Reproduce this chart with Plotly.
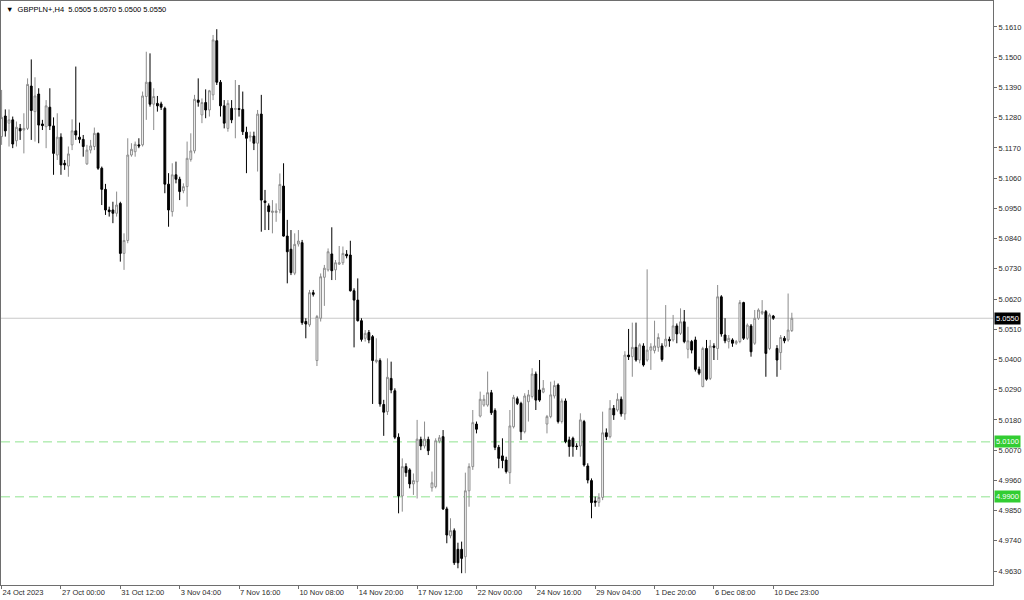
import plotly.graph_objects as go

# ---------------- data (GBPPLN+, H4) ----------------
open_ = [5.1211, 5.1286, 5.1260, 5.1272, 5.1196, 5.1241, 5.1235, 5.1241, 5.1395, 5.1302,
         5.1366, 5.1257, 5.1247, 5.1318, 5.1250, 5.1144, 5.1209, 5.1114, 5.1104, 5.1181,
         5.1232, 5.1209, 5.1201, 5.1112, 5.1162, 5.1175, 5.1223, 5.1096, 5.1019, 5.0944,
         5.0944, 5.0932, 5.0968, 5.0786, 5.0833, 5.1144, 5.1156, 5.1181, 5.1181, 5.1357,
         5.1409, 5.1329, 5.1332, 5.1330, 5.1314, 5.1038, 5.0938, 5.1072, 5.1056, 5.1014,
         5.1029, 5.1128, 5.1159, 5.1344, 5.1290, 5.1335, 5.1308, 5.1363, 5.1560, 5.1409,
         5.1323, 5.1241, 5.1314, 5.1310, 5.1313, 5.1310, 5.1227, 5.1209, 5.1213, 5.1187,
         5.1293, 5.0977, 5.0959, 5.0935, 5.0935, 5.0944, 5.1031, 5.0849, 5.0801, 5.0714,
         5.0820, 5.0825, 5.0538, 5.0526, 5.0643, 5.0396, 5.0550, 5.0699, 5.0726, 5.0784,
         5.0726, 5.0747, 5.0752, 5.0783, 5.0780, 5.0650, 5.0616, 5.0541, 5.0477, 5.0498,
         5.0483, 5.0392, 5.0396, 5.0236, 5.0210, 5.0331, 5.0286, 5.0117, 4.9903, 5.0010,
         4.9998, 4.9947, 4.9955, 5.0109, 5.0085, 5.0109, 4.9933, 4.9937, 5.0103, 5.0119,
         4.9856, 4.9758, 4.9777, 4.9709, 4.9709, 4.9682, 4.9922, 5.0010, 5.0165, 5.0194,
         5.0234, 5.0234, 5.0279, 5.0214, 5.0080, 5.0049, 5.0034, 4.9988, 5.0155, 5.0257,
         5.0240, 5.0137, 5.0246, 5.0265, 5.0347, 5.0289, 5.0281, 5.0165, 5.0192, 5.0267,
         5.0307, 5.0174, 5.0249, 5.0107, 5.0113, 5.0085, 5.0085, 5.0174, 5.0012, 4.9959,
         4.9885, 4.9880, 4.9898, 5.0133, 5.0119, 5.0222, 5.0216, 5.0255, 5.0202, 5.0416,
         5.0410, 5.0444, 5.0398, 5.0449, 5.0398, 5.0434, 5.0432, 5.0444, 5.0449, 5.0449,
         5.0473, 5.0471, 5.0522, 5.0495, 5.0537, 5.0437, 5.0465, 5.0471, 5.0364, 5.0301,
         5.0440, 5.0331, 5.0449, 5.0440, 5.0628, 5.0489, 5.0465, 5.0471, 5.0459, 5.0465,
         5.0607, 5.0477, 5.0522, 5.0459, 5.0550, 5.0568, 5.0574, 5.0440, 5.0558, 5.0440,
         5.0425, 5.0477, 5.0471, 5.0505]
high = [5.1381, 5.1310, 5.1310, 5.1284, 5.1266, 5.1257, 5.1296, 5.1423, 5.1492, 5.1427,
        5.1387, 5.1272, 5.1344, 5.1387, 5.1281, 5.1296, 5.1223, 5.1126, 5.1175, 5.1274,
        5.1466, 5.1262, 5.1217, 5.1181, 5.1199, 5.1244, 5.1226, 5.1102, 5.1039, 5.0956,
        5.0974, 5.1011, 5.0974, 5.0859, 5.1205, 5.1187, 5.1193, 5.1205, 5.1375, 5.1520,
        5.1514, 5.1387, 5.1359, 5.1338, 5.1320, 5.1078, 5.1114, 5.1120, 5.1065, 5.1041,
        5.1193, 5.1223, 5.1363, 5.1423, 5.1350, 5.1383, 5.1381, 5.1581, 5.1602, 5.1417,
        5.1344, 5.1344, 5.1344, 5.1417, 5.1399, 5.1375, 5.1247, 5.1229, 5.1229, 5.1308,
        5.1363, 5.1017, 5.0968, 5.0980, 5.0968, 5.1077, 5.1114, 5.0908, 5.0871, 5.0859,
        5.0871, 5.0835, 5.0550, 5.0653, 5.0653, 5.0562, 5.0713, 5.0744, 5.0804, 5.0881,
        5.0762, 5.0813, 5.0811, 5.0798, 5.0832, 5.0659, 5.0695, 5.0550, 5.0507, 5.0507,
        5.0489, 5.0477, 5.0404, 5.0253, 5.0404, 5.0392, 5.0295, 5.0131, 5.0040, 5.0022,
        5.0004, 4.9985, 5.0180, 5.0119, 5.0174, 5.0119, 4.9992, 5.0113, 5.0125, 5.0143,
        4.9864, 4.9822, 4.9785, 4.9733, 4.9737, 4.9988, 5.0022, 5.0216, 5.0174, 5.0283,
        5.0271, 5.0356, 5.0289, 5.0222, 5.0089, 5.0113, 5.0046, 5.0216, 5.0271, 5.0265,
        5.0246, 5.0277, 5.0289, 5.0368, 5.0356, 5.0398, 5.0325, 5.0198, 5.0319, 5.0323,
        5.0313, 5.0258, 5.0258, 5.0119, 5.0119, 5.0095, 5.0204, 5.0180, 5.0022, 4.9967,
        4.9901, 4.9913, 5.0210, 5.0149, 5.0252, 5.0234, 5.0277, 5.0265, 5.0430, 5.0511,
        5.0534, 5.0534, 5.0459, 5.0459, 5.0728, 5.0459, 5.0541, 5.0495, 5.0459, 5.0598,
        5.0483, 5.0562, 5.0531, 5.0586, 5.0580, 5.0519, 5.0471, 5.0483, 5.0374, 5.0446,
        5.0471, 5.0471, 5.0459, 5.0671, 5.0634, 5.0550, 5.0489, 5.0477, 5.0471, 5.0616,
        5.0610, 5.0531, 5.0529, 5.0580, 5.0586, 5.0616, 5.0580, 5.0568, 5.0562, 5.0452,
        5.0489, 5.0485, 5.0640, 5.0570]
low = [5.1181, 5.1211, 5.1175, 5.1169, 5.1175, 5.1199, 5.1150, 5.1235, 5.1199, 5.1193,
       5.1187, 5.1235, 5.1169, 5.1235, 5.1072, 5.1126, 5.1072, 5.1090, 5.1065, 5.1162,
       5.1199, 5.1187, 5.1138, 5.1108, 5.1150, 5.1162, 5.1090, 5.0962, 5.0926, 5.0920,
       5.0896, 5.0920, 5.0756, 5.0726, 5.0823, 5.1138, 5.1138, 5.1169, 5.1175, 5.1272,
       5.1320, 5.1235, 5.1302, 5.1308, 5.1005, 5.0883, 5.0920, 5.1041, 5.0980, 5.1005,
       5.0956, 5.1120, 5.1150, 5.1320, 5.1260, 5.1278, 5.1284, 5.1344, 5.1399, 5.1284,
       5.1241, 5.1229, 5.1260, 5.1205, 5.1284, 5.1217, 5.1078, 5.1193, 5.1162, 5.1084,
       5.0865, 5.0871, 5.0871, 5.0859, 5.0901, 5.0932, 5.0847, 5.0677, 5.0707, 5.0707,
       5.0811, 5.0526, 5.0477, 5.0519, 5.0629, 5.0376, 5.0538, 5.0595, 5.0720, 5.0689,
       5.0689, 5.0744, 5.0744, 5.0768, 5.0647, 5.0444, 5.0538, 5.0465, 5.0465, 5.0459,
       5.0238, 5.0386, 5.0228, 5.0122, 5.0198, 5.0277, 5.0110, 4.9840, 4.9846, 4.9973,
       4.9931, 4.9907, 4.9894, 5.0070, 5.0076, 5.0052, 4.9919, 4.9931, 5.0095, 4.9852,
       4.9731, 4.9749, 4.9652, 4.9640, 4.9622, 4.9622, 4.9864, 4.9998, 5.0131, 5.0189,
       5.0228, 5.0228, 5.0198, 5.0070, 5.0004, 5.0004, 4.9985, 4.9947, 5.0149, 5.0234,
       5.0107, 5.0131, 5.0174, 5.0258, 5.0216, 5.0246, 5.0277, 5.0131, 5.0186, 5.0258,
       5.0167, 5.0167, 5.0095, 5.0046, 5.0046, 5.0071, 5.0046, 5.0010, 4.9949, 4.9822,
       4.9864, 4.9864, 4.9888, 5.0107, 5.0113, 5.0180, 5.0210, 5.0192, 5.0180, 5.0398,
       5.0337, 5.0392, 5.0386, 5.0374, 5.0392, 5.0362, 5.0422, 5.0428, 5.0392, 5.0444,
       5.0446, 5.0465, 5.0459, 5.0489, 5.0459, 5.0404, 5.0422, 5.0356, 5.0343, 5.0299,
       5.0323, 5.0325, 5.0398, 5.0398, 5.0483, 5.0459, 5.0440, 5.0446, 5.0453, 5.0459,
       5.0471, 5.0471, 5.0410, 5.0453, 5.0544, 5.0562, 5.0337, 5.0434, 5.0544, 5.0337,
       5.0362, 5.0459, 5.0465, 5.0500]
close = [5.1281, 5.1232, 5.1272, 5.1184, 5.1245, 5.1232, 5.1241, 5.1401, 5.1306, 5.1359,
         5.1253, 5.1251, 5.1323, 5.1250, 5.1150, 5.1209, 5.1108, 5.1108, 5.1148, 5.1232,
         5.1217, 5.1201, 5.1175, 5.1162, 5.1177, 5.1223, 5.1096, 5.1019, 5.0944, 5.0938,
         5.0932, 5.0962, 5.0786, 5.0833, 5.1144, 5.1165, 5.1183, 5.1177, 5.1359, 5.1409,
         5.1329, 5.1357, 5.1323, 5.1318, 5.1038, 5.0944, 5.1072, 5.1056, 5.1011, 5.1029,
         5.1132, 5.1159, 5.1347, 5.1336, 5.1335, 5.1308, 5.1378, 5.1563, 5.1409, 5.1323,
         5.1260, 5.1332, 5.1272, 5.1313, 5.1310, 5.1229, 5.1205, 5.1213, 5.1187, 5.1293,
         5.0980, 5.0971, 5.0938, 5.0940, 5.0940, 5.1037, 5.0849, 5.0792, 5.0716, 5.0819,
         5.0831, 5.0534, 5.0529, 5.0643, 5.0637, 5.0556, 5.0701, 5.0732, 5.0792, 5.0723,
         5.0752, 5.0752, 5.0786, 5.0777, 5.0650, 5.0616, 5.0541, 5.0473, 5.0495, 5.0471,
         5.0396, 5.0398, 5.0238, 5.0208, 5.0335, 5.0289, 5.0117, 4.9903, 5.0010, 4.9988,
         4.9947, 4.9959, 5.0110, 5.0085, 5.0110, 5.0068, 4.9951, 5.0104, 5.0115, 4.9856,
         4.9761, 4.9777, 4.9660, 4.9660, 4.9676, 4.9922, 5.0010, 5.0170, 5.0146, 5.0255,
         5.0255, 5.0279, 5.0206, 5.0080, 5.0040, 5.0032, 4.9992, 5.0158, 5.0262, 5.0240,
         5.0137, 5.0267, 5.0271, 5.0347, 5.0252, 5.0252, 5.0295, 5.0192, 5.0271, 5.0305,
         5.0174, 5.0249, 5.0101, 5.0083, 5.0083, 5.0083, 5.0180, 5.0016, 4.9961, 4.9879,
         4.9880, 4.9898, 5.0133, 5.0119, 5.0222, 5.0198, 5.0255, 5.0202, 5.0416, 5.0410,
         5.0444, 5.0398, 5.0453, 5.0380, 5.0434, 5.0446, 5.0449, 5.0480, 5.0400, 5.0474,
         5.0468, 5.0522, 5.0493, 5.0537, 5.0465, 5.0468, 5.0434, 5.0364, 5.0350, 5.0440,
         5.0328, 5.0449, 5.0444, 5.0628, 5.0493, 5.0468, 5.0477, 5.0459, 5.0465, 5.0607,
         5.0477, 5.0525, 5.0428, 5.0550, 5.0580, 5.0574, 5.0422, 5.0562, 5.0550, 5.0398,
         5.0480, 5.0468, 5.0507, 5.0550]

symbol = "GBPPLN+,H4"
time_labels = ["24 Oct 2023", "27 Oct 00:00", "31 Oct 12:00", "3 Nov 04:00", "7 Nov 16:00",
               "10 Nov 08:00", "14 Nov 20:00", "17 Nov 12:00", "22 Nov 00:00", "24 Nov 16:00",
               "29 Nov 04:00", "1 Dec 20:00", "6 Dec 08:00", "10 Dec 23:00"]
bars_per_label = 16
price_ticks = [5.1610, 5.1500, 5.1390, 5.1280, 5.1170, 5.1060, 5.0950, 5.0840, 5.0730, 5.0620,
               5.0510, 5.0400, 5.0290, 5.0180, 5.0070, 4.9960, 4.9850, 4.9740, 4.9630]
level_prices = [5.0100, 4.9900]
last_price = close[-1]

# ---------------- figure ----------------
FONT = "Liberation Sans, Arial, sans-serif"
AX = "#6e6e6e"
TXT = "#2a2a2a"

x = list(range(len(close)))
tick_pos = [k * bars_per_label for k in range(len(time_labels))]

fig = go.Figure(go.Candlestick(
    x=x, open=open_, high=high, low=low, close=close,
    increasing=dict(line=dict(color="#8c8c8c", width=1), fillcolor="#ffffff"),
    decreasing=dict(line=dict(color="#000000", width=1), fillcolor="#000000"),
    whiskerwidth=0, hoverinfo="skip", showlegend=False,
))

shapes = [dict(type="line", xref="paper", x0=0, x1=1, yref="y", y0=last_price, y1=last_price,
               line=dict(color="#c8c8c8", width=1), layer="below")]
for lv in level_prices:
    shapes.append(dict(type="line", xref="paper", x0=0, x1=1, yref="y", y0=lv, y1=lv,
                       line=dict(color="#8fe38f", width=1, dash="9px,5px"), layer="below"))

annotations = [dict(xref="paper", yref="y", x=1, y=last_price, xanchor="left", yanchor="middle",
                    xshift=1, text=f"{last_price:.4f}", showarrow=False, bgcolor="#000000",
                    borderpad=1, font=dict(family=FONT, size=7.5, color="#ffffff"))]
for lv in level_prices:
    annotations.append(dict(xref="paper", yref="y", x=1, y=lv, xanchor="left", yanchor="middle",
                            xshift=1, text=f"{lv:.4f}", showarrow=False, bgcolor="#32cd32",
                            borderpad=1, font=dict(family=FONT, size=7.5, color="#ffffff")))
annotations.append(dict(xref="paper", yref="paper", x=0, y=1, xanchor="left", yanchor="top",
                        xshift=3, yshift=-2, showarrow=False,
                        text=f"▼  {symbol}  {open_[-1]:.4f} {high[-1]:.4f} {low[-1]:.4f} {close[-1]:.4f}",
                        font=dict(family=FONT, size=7.5, color="#000000")))

px_per_bar = 3.71
plot_w = 1024 - 1 - 31
x0 = -0.6 / px_per_bar
fig.update_layout(
    width=1024, height=600,
    margin=dict(l=1, r=31, t=1, b=15, autoexpand=False),
    paper_bgcolor="white", plot_bgcolor="white",
    showlegend=False, hovermode=False,
    shapes=shapes, annotations=annotations,
    xaxis=dict(range=[x0, x0 + plot_w / px_per_bar], rangeslider=dict(visible=False),
               tickmode="array", tickvals=tick_pos, ticktext=time_labels,
               ticks="outside", ticklen=3, tickcolor=AX, ticklabelposition="outside right",
               showgrid=False, zeroline=False, showline=True, linecolor=AX, linewidth=1,
               mirror=True, tickfont=dict(family=FONT, size=7.5, color=TXT)),
    yaxis=dict(side="right", range=[4.95791, 5.17046],
               tickmode="array", tickvals=price_ticks,
               ticktext=[f"{v:.4f}" for v in price_ticks],
               ticks="outside", ticklen=3, tickcolor=AX,
               showgrid=False, zeroline=False, showline=True, linecolor=AX, linewidth=1,
               mirror=True, tickfont=dict(family=FONT, size=7.5, color=TXT)),
)

fig.write_html("out.html", config={"displayModeBar": False},
               post_script="document.body.style.margin='0px';document.body.style.overflow='hidden';")
